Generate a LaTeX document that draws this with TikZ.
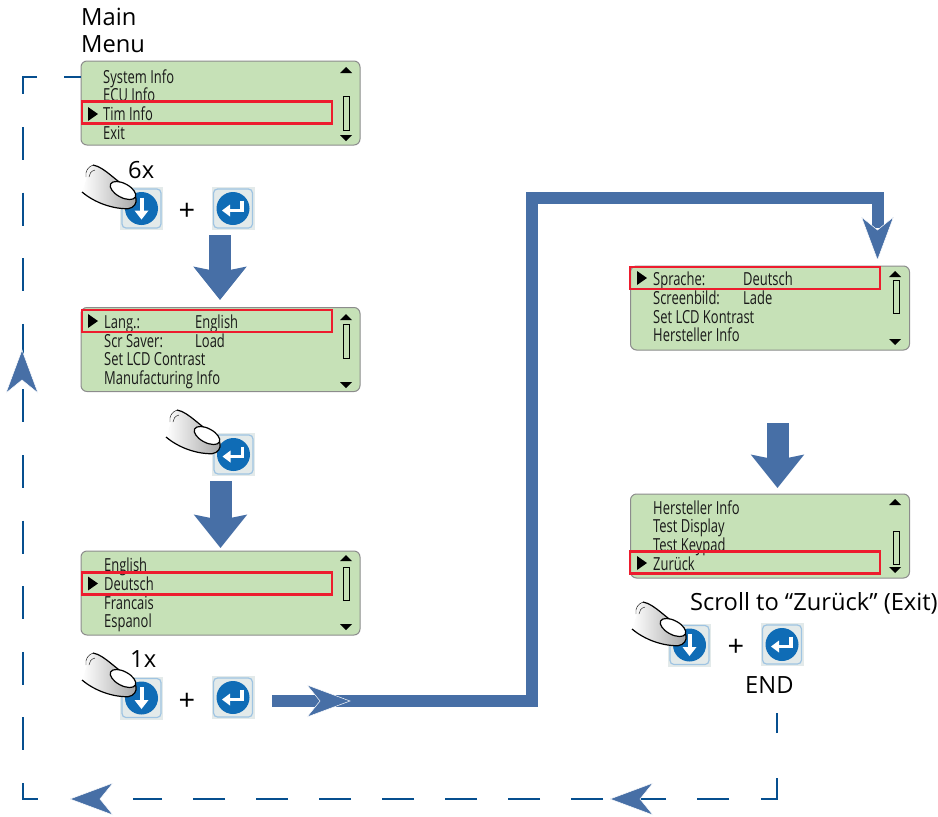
\documentclass[tikz,border=0pt]{standalone}
\usepackage{fontspec}
\setmainfont{Open Sans}
\newfontfamily\lcdfont[FakeStretch=0.72]{Open Sans}
\usetikzlibrary{arrows.meta}
\definecolor{lcdgreen}{HTML}{C6E1B7}
\definecolor{lcdred}{HTML}{ED1C2E}
\definecolor{fatblue}{HTML}{476FA6}
\definecolor{retblue}{HTML}{064F8F}
\definecolor{btnblue}{HTML}{0F6CB6}
\definecolor{btnface}{HTML}{E3EAEA}
\tikzset{
    lcdpanel/.style={draw=black!45, line width=1pt, fill=lcdgreen, rounded corners=6pt, minimum width=279pt, minimum height=84pt, inner sep=0pt},
    redbox/.style={draw=lcdred, line width=2.6pt, minimum width=250pt, minimum height=22pt, inner sep=0pt},
    lcdrow/.style={anchor=base west, inner sep=0pt, font=\lcdfont\fontsize{18}{18}\selectfont, text=black!90},
    label/.style={anchor=base west, inner sep=0pt, font=\fontsize{23.7}{24}\selectfont},
    pluslabel/.style={inner sep=0pt, font=\fontsize{29}{29}\selectfont},
    scrollbar/.style={draw=black, line width=1pt, fill=lcdgreen, minimum width=6pt, inner sep=0pt},
    fatarrow/.style={draw=fatblue, line width=22pt, -{Stealth[length=33pt, width=52pt, inset=5pt]}},
    fatline/.style={draw=fatblue, line width=12pt, line join=miter},
    retline/.style={draw=retblue, line width=2pt},
    pics/headtip/.style={code={
        \fill[fatblue, draw=white, line width=0.5pt] (0,0) -- (-43,-16) -- (-30,0) -- (-43,16) -- cycle;
    }},
    pics/upmark/.style={code={\fill[black] (-6,6) -- (0,0) -- (6,6) -- cycle;}},
    pics/downmark/.style={code={\fill[black] (-6,0) -- (0,6) -- (6,0) -- cycle;}},
    pics/rowmark/.style={code={\fill[black] (-5,-7) -- (5,0) -- (-5,7) -- cycle;}},
    pics/btnbase/.style={code={
        \fill[btnface] (-21.5,-21.5) rectangle (21.5,21.5);
        \draw[btnblue!40!white, line width=1.2pt, rounded corners=4pt] (-19.5,-19.5) rectangle (19.5,19.5);
        \fill[btnblue] (0,0) circle (16.5);
    }},
    pics/downbtn/.style={code={
        \pic {btnbase};
        \draw[white, line width=4pt] (0,-11) -- (0,3);
        \fill[white] (-7,2) -- (7,2) -- (0,11) -- cycle;
    }},
    pics/enterbtn/.style={code={
        \pic {btnbase};
        \draw[white, line width=3.5pt] (9,-8) -- (9,2) -- (-4,2);
        \fill[white] (-3,-4) -- (-3,8) -- (-11,2) -- cycle;
    }},
    pics/hand/.style={code={
        \shade[left color=white, right color=black!35] (-53,-5) .. controls (-40,6) and (-22,12) .. (-7,11.7) .. controls (-1,11) and (2,6) .. (1,1.7) .. controls (0,-4) and (-3,-7) .. (-6,-9) .. controls (-18,-14) and (-30,-30) .. (-42,-32) .. controls (-48,-32) and (-50,-26) .. (-48,-20) -- cycle;
        \draw[black, line width=1.2pt] (-53,-5) .. controls (-40,6) and (-22,12) .. (-7,11.7) .. controls (-1,11) and (2,6) .. (1,1.7) .. controls (0,-4) and (-3,-7) .. (-6,-9) .. controls (-18,-14) and (-30,-30) .. (-42,-32);
        \draw[black, line width=0.4pt] (-42,-32) .. controls (-47,-30) and (-50,-26) .. (-49,-20);
        \draw[black, line width=0.4pt] (-40,-27) .. controls (-44,-26) and (-46,-23) .. (-46,-20);
        \draw[black, fill=white, line width=1.2pt] (-12,-6.5) ellipse[x radius=14, y radius=7, rotate=-28];
    }}
}
\begin{document}
\begin{tikzpicture}[x=1pt, y=-1pt]
    \useasboundingbox (0,0) rectangle (938,817);

    %return route
    \coordinate (retA) at (64,77);
    \coordinate (retB) at (37,77);
    \coordinate (retC) at (23,77);
    \coordinate (retD) at (23,799);
    \coordinate (retE) at (38,799);
    \coordinate (retF) at (133,799);
    \coordinate (retG) at (729,799);
    \coordinate (retH) at (761,799);
    \coordinate (retI) at (777,799);
    \coordinate (retJ) at (777,778);
    \coordinate (retK) at (777,733);
    \coordinate (retL) at (777,713);
    \draw[retline, dash pattern=on 33pt off 32.6pt, dash phase=1.6pt] (retB) -- (retC) -- (retD) -- (retE);
    \draw[retline, dash pattern=on 32pt off 31pt] (retG) -- (retF);
    \draw[retline] (retH) -- (retI) -- (retJ);
    \draw[retline] (retK) -- (retL);

    %screens
    \node[lcdpanel] at (220.5,103) (lcdMain) {};
    \node[lcdpanel] at (220.5,349.5) (lcdLang) {};
    \node[lcdpanel] at (220.5,593) (lcdPick) {};
    \node[lcdpanel] at (770,308) (lcdSprache) {};
    \node[lcdpanel] at (770,536) (lcdExit) {};
    \draw[retline] (retA) -- (lcdMain.west |- retA);

    %main menu
    \node[label] at (81,25) (mainword) {Main};
    \node[label] at (81,52) (menuword) {Menu};
    \node[lcdrow] at (103,83) (sysinfo) {System Info};
    \node[lcdrow] at (103,101) (ecuinfo) {ECU Info};
    \node[lcdrow] at (103,120) (timinfo) {Tim Info};
    \node[lcdrow] at (103,139) (exitrow) {Exit};
    \node[redbox] at (207,112.5) (redMain) {};
    \pic at (93,114) {rowmark};
    \pic at (346,67) {upmark};
    \pic at (346,135) {downmark};
    \node[scrollbar, minimum height=34pt] at (346,113) (barMain) {};

    %language
    \node[lcdrow] at (104,328) (langrow) {Lang.:};
    \node[lcdrow] at (195,328) (langval) {English};
    \node[lcdrow] at (104,347) (scrrow) {Scr Saver:};
    \node[lcdrow] at (195,347) (scrval) {Load};
    \node[lcdrow] at (104,365) (lcdrow) {Set LCD Contrast};
    \node[lcdrow] at (104,384) (manurow) {Manufacturing Info};
    \node[redbox] at (207,321) (redLang) {};
    \pic at (93,321) {rowmark};
    \pic at (346,314) {upmark};
    \pic at (346,382) {downmark};
    \node[scrollbar, minimum height=34pt] at (346,341) (barLang) {};

    %language list
    \node[lcdrow] at (104,571) (pickEn) {English};
    \node[lcdrow] at (104,590) (pickDe) {Deutsch};
    \node[lcdrow] at (104,609) (pickFr) {Francais};
    \node[lcdrow] at (104,627) (pickEs) {Espanol};
    \node[redbox] at (207,583.5) (redPick) {};
    \pic at (93,583.5) {rowmark};
    \pic at (346,555) {upmark};
    \pic at (346,624) {downmark};
    \node[scrollbar, minimum height=33pt] at (346,584) (barPick) {};

    %german menu
    \node[lcdrow] at (653,285) (spracherow) {Sprache:};
    \node[lcdrow] at (743,285) (sprachval) {Deutsch};
    \node[lcdrow] at (653,304) (bildrow) {Screenbild:};
    \node[lcdrow] at (743,304) (bildval) {Lade};
    \node[lcdrow] at (653,323) (kontrastrow) {Set LCD Kontrast};
    \node[lcdrow] at (653,341) (herstrow) {Hersteller Info};
    \node[redbox] at (755,278) (redSprache) {};
    \pic at (642,278) {rowmark};
    \pic at (895,271) {upmark};
    \pic at (895,339) {downmark};
    \node[scrollbar, minimum height=33pt] at (896,297) (barSprache) {};

    %german menu, end
    \node[lcdrow] at (653,514) (exitA) {Hersteller Info};
    \node[lcdrow] at (653,532) (exitB) {Test Display};
    \node[lcdrow] at (653,551) (exitC) {Test Keypad};
    \node[lcdrow] at (653,570) (exitD) {Zurück};
    \node[redbox] at (755,562.5) (redExit) {};
    \pic at (642,563) {rowmark};
    \pic at (895,499) {upmark};
    \pic at (895,567) {downmark};
    \node[scrollbar, minimum height=33pt] at (896,547.5) (barExit) {};

    %buttons
    \pic (btnDownA) at (141.5,208.5) {downbtn};
    \pic (btnEnterA) at (233,208.5) {enterbtn};
    \pic (btnEnterB) at (233.5,454.5) {enterbtn};
    \pic (btnDownC) at (141.5,698) {downbtn};
    \pic (btnEnterC) at (233,697.5) {enterbtn};
    \pic (btnDownD) at (689.5,645) {downbtn};
    \pic (btnEnterD) at (782,644.5) {enterbtn};
    \pic at (135,197) {hand};
    \pic at (219,442) {hand};
    \pic at (135,685) {hand};
    \pic at (685,634) {hand};
    \node[label] at (128,178) (sixtimes) {6x};
    \node[label] at (130,667) (onetime) {1x};
    \node[label] at (690,610) (scrollnote) {Scroll to “Zurück” (Exit)};
    \node[label] at (745,693) (endword) {END};
    \node[pluslabel] at (187,212) (plusA) {+};
    \node[pluslabel] at (187,702) (plusC) {+};
    \node[pluslabel] at (736,648) (plusD) {+};

    %big arrows
    \coordinate (bigAtop) at (220,235);
    \coordinate (bigAend) at (220,300);
    \coordinate (bigBtop) at (220.5,481);
    \coordinate (bigBend) at (220.5,548);
    \coordinate (bigCtop) at (777.5,423);
    \coordinate (bigCend) at (777.5,488);
    \draw[fatarrow] (bigAtop) -- (bigAend);
    \draw[fatarrow] (bigBtop) -- (bigBend);
    \draw[fatarrow] (bigCtop) -- (bigCend);

    %route to the german menu
    \coordinate (routeA) at (272,701);
    \coordinate (routeB) at (532,701);
    \coordinate (routeC) at (532,198);
    \coordinate (routeD) at (878,198);
    \coordinate (routeE) at (878,228);
    \draw[fatline] (routeA) -- (routeB) -- (routeC) -- (routeD) -- (routeE);
    \pic at (350,701) {headtip};
    \pic[rotate=-90] at (877.5,260) {headtip};

    %heads on the return route
    \pic[rotate=90] at (22,350) {headtip};
    \pic[rotate=180] at (70,799) {headtip};
    \pic[rotate=180] at (610,799) {headtip};
\end{tikzpicture}
\end{document}
